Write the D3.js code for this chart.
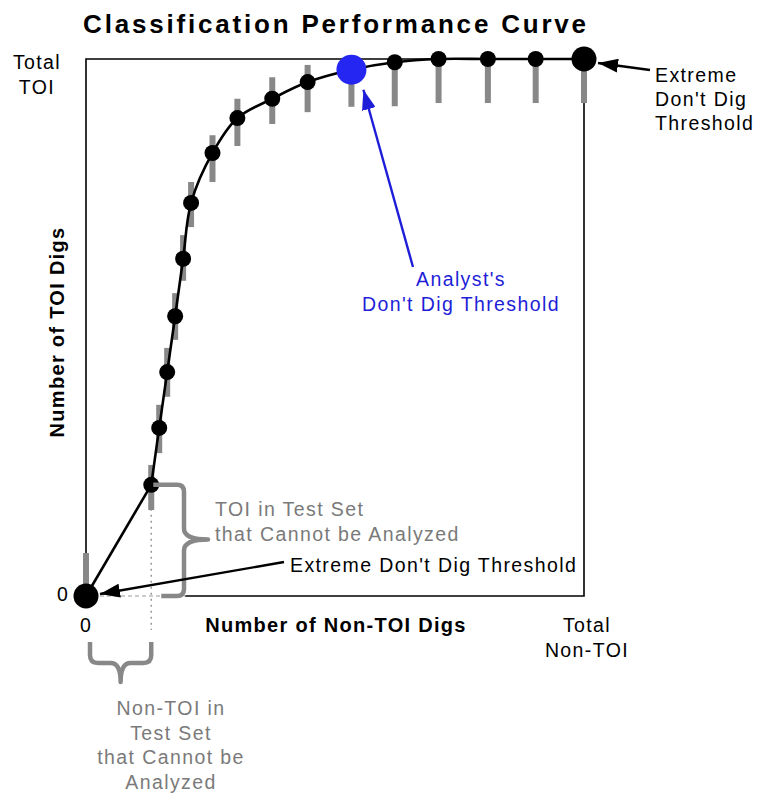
<!DOCTYPE html>
<html>
<head>
<meta charset="utf-8">
<script src="https://cdn.jsdelivr.net/npm/d3@7/dist/d3.min.js"></script>
<style>
  html, body { margin: 0; padding: 0; background: #fff; }
  svg { display: block; }
  text { font-family: "Liberation Sans", Arial, Helvetica, sans-serif; }
</style>
</head>
<body>
<svg id="chart" width="758" height="794"></svg>
<script>
// ---------------- data ----------------
const nonToiDigs = [0, 13.1, 14.7, 16.3, 17.9, 19.5, 21.1, 25.4, 30.4, 37.4, 44.5, 53.3, 62.0, 70.8, 80.7, 90.3, 100];
const toiDigs    = [0, 20.7, 31.3, 41.7, 52.1, 62.8, 73.2, 82.5, 89.0, 92.6, 95.7, 98.0, 99.4, 100, 100, 100, 100];
const rangeLow   = [0, 16.0, 26.6, 37.1, 47.7, 58.7, 68.7, 77.1, 83.8, 87.9, 90.1, 91.1, 91.2, 91.8, 91.8, 91.8, 91.8];
const rangeHigh  = [8.0, 24.4, 35.6, 46.2, 56.4, 67.2, 77.1, 85.8, 92.6, 96.6, 98.9, 99.1, 99.3, 100, 100, 100, 100];
const pointRole  = ["extreme", "", "", "", "", "", "", "", "", "", "", "analyst", "", "", "", "", "extreme"];
const xTickValues = [0, 100];
const xTickLabels = [["0"], ["Total", "Non-TOI"]];
const yTickValues = [0, 100];
const yTickLabels = [["0"], ["Total", "TOI"]];
const unanalyzedNonToi = 13.1;  // non-TOI that cannot be analyzed
const unanalyzedToi = 20.7;     // TOI that cannot be analyzed

const titleText = "Classification Performance Curve";
const xAxisTitle = "Number of Non-TOI Digs";
const yAxisTitle = "Number of TOI Digs";

// ---------------- layout ----------------
(function () {
const svg = d3.select("#chart");
const pLeft = 86, pRight = 584, pTop = 59, pBottom = 596;
const x = d3.scaleLinear().domain([0, 100]).range([pLeft, pRight]);
const y = d3.scaleLinear().domain([0, 100]).range([pBottom, pTop]);

const GRAY = "#888888";
const GRAYTXT = "#7a7a7a";
const BLUE = "#2626f2";
const BLUETXT = "#1e1ed8";
const FS = 19.5, LS = 1.4;

const defs = svg.append("defs");
function marker(id, color) {
  defs.append("marker").attr("id", id)
    .attr("viewBox", "0 0 20 14").attr("refX", 20).attr("refY", 7)
    .attr("markerWidth", 20).attr("markerHeight", 14)
    .attr("markerUnits", "userSpaceOnUse").attr("orient", "auto")
    .append("path").attr("d", "M0,0 L20,7 L0,14 Z").attr("fill", color);
}
marker("arrowBlack", "#000");
marker("arrowBlue", BLUETXT);

// title
svg.append("text").attr("x", 336).attr("y", 33).attr("text-anchor", "middle")
  .attr("font-size", 26).attr("font-weight", "bold").attr("letter-spacing", 2.8)
  .text(titleText);

// frame
const xEdge = x(unanalyzedNonToi) + 34;
svg.append("path")
  .attr("d", `M${xEdge},${pBottom} H${pRight} V${pTop} H${pLeft} V${pBottom}`)
  .attr("fill", "none").attr("stroke", "#000").attr("stroke-width", 1.6);
// dashed bottom segment near origin
svg.append("line").attr("x1", pLeft).attr("x2", xEdge).attr("y1", pBottom).attr("y2", pBottom)
  .attr("stroke", "#9a9a9a").attr("stroke-width", 1.2).attr("stroke-dasharray", "4,3");

// dotted guide for non-TOI that cannot be analyzed
svg.append("line")
  .attr("x1", x(unanalyzedNonToi)).attr("x2", x(unanalyzedNonToi))
  .attr("y1", y(unanalyzedToi)).attr("y2", pBottom + 34)
  .attr("stroke", "#9a9a9a").attr("stroke-width", 1.5).attr("stroke-dasharray", "2,4");

// gray range bars
svg.append("g").selectAll("rect").data(nonToiDigs).join("rect")
  .attr("x", (d) => x(d) - 3)
  .attr("width", 6)
  .attr("y", (d, i) => y(rangeHigh[i]))
  .attr("height", (d, i) => y(rangeLow[i]) - y(rangeHigh[i]))
  .attr("fill", GRAY);

// curve: straight from origin to first analyzable point, then smooth
const pts = nonToiDigs.map((d, i) => [d, toiDigs[i]]);
svg.append("path")
  .attr("d", d3.line().x(d => x(d[0])).y(d => y(d[1]))(pts.slice(0, 2)))
  .attr("fill", "none").attr("stroke", "#000").attr("stroke-width", 2.6);
svg.append("path")
  .attr("d", d3.line().curve(d3.curveCatmullRom.alpha(0.5)).x(d => x(d[0])).y(d => y(d[1]))(pts.slice(1)))
  .attr("fill", "none").attr("stroke", "#000").attr("stroke-width", 2.6);

// points
svg.append("g").selectAll("circle").data(pts).join("circle")
  .attr("cx", d => x(d[0])).attr("cy", d => y(d[1]))
  .attr("r", (d, i) => pointRole[i] === "analyst" ? 15 : pointRole[i] === "extreme" ? 12.5 : 8)
  .attr("fill", (d, i) => pointRole[i] === "analyst" ? BLUE : "#000");

// text helper
function multiText(xp, yp, lines, anchor, opts = {}) {
  const t = svg.append("text").attr("x", xp).attr("y", yp).attr("text-anchor", anchor)
    .attr("font-size", opts.fs || FS).attr("letter-spacing", opts.ls != null ? opts.ls : LS)
    .attr("fill", opts.color || "#000");
  if (opts.bold) t.attr("font-weight", "bold");
  lines.forEach((ln, i) => {
    t.append("tspan").attr("x", xp).attr("dy", i === 0 ? 0 : (opts.lh || 25)).text(ln);
  });
  return t;
}
// x ticks
multiText(x(xTickValues[0]), 632, xTickLabels[0], "middle");
multiText(x(xTickValues[1]) + 3, 632, xTickLabels[1], "middle");
// y ticks
multiText(63, y(yTickValues[0]) + 5, yTickLabels[0], "middle");
multiText(37, y(yTickValues[1]) + 10, yTickLabels[1], "middle");

// axis titles
svg.append("text").attr("x", 336).attr("y", 632).attr("text-anchor", "middle")
  .attr("font-size", 20).attr("font-weight", "bold").attr("letter-spacing", 1.3)
  .text(xAxisTitle);
svg.append("text").attr("transform", "translate(64,332) rotate(-90)").attr("text-anchor", "middle")
  .attr("font-size", 20).attr("font-weight", "bold").attr("letter-spacing", 1.3)
  .text(yAxisTitle);

// brace: TOI that cannot be analyzed
const bx = 184, bTop = y(unanalyzedToi), bBot = pBottom, bMid = (bTop + bBot) / 2;
svg.append("path")
  .attr("d", `M${x(unanalyzedNonToi) + 2},${bTop} H${bx - 7} Q${bx},${bTop} ${bx},${bTop + 7} V${bMid - 12} Q${bx},${bMid - 1} ${bx + 24},${bMid - 1} Q${bx},${bMid - 1} ${bx},${bMid + 10} V${bBot - 7} Q${bx},${bBot} ${bx - 7},${bBot} H${x(unanalyzedNonToi) + 10}`)
  .attr("fill", "none").attr("stroke", GRAY).attr("stroke-width", 4.5).attr("stroke-linejoin", "round");
multiText(215, 516, ["TOI in Test Set", "that Cannot be Analyzed"], "start", { color: GRAYTXT });

// brace: Non-TOI that cannot be analyzed
const by0 = 642, by1 = 663, bl = x(0) + 4, br = x(unanalyzedNonToi), bc = (bl + br) / 2;
svg.append("path")
  .attr("d", `M${bl},${by0} V${by1 - 8} Q${bl},${by1} ${bl + 8},${by1} H${bc - 10} Q${bc},${by1} ${bc},${by1 + 19} Q${bc},${by1} ${bc + 10},${by1} H${br - 8} Q${br},${by1} ${br},${by1 - 8} V${by0}`)
  .attr("fill", "none").attr("stroke", GRAY).attr("stroke-width", 4.5).attr("stroke-linejoin", "round");
multiText(171, 715, ["Non-TOI in", "Test Set", "that Cannot be", "Analyzed"], "middle", { color: GRAYTXT, lh: 24.5 });

// annotation: extreme threshold at origin
svg.append("line").attr("x1", 284).attr("y1", 562).attr("x2", x(0) + 14).attr("y2", y(0) - 2)
  .attr("stroke", "#000").attr("stroke-width", 2.4).attr("marker-end", "url(#arrowBlack)");
multiText(290, 572, ["Extreme Don't Dig Threshold"], "start");

// annotation: extreme threshold at top right
svg.append("line").attr("x1", 650).attr("y1", 70).attr("x2", x(100) + 14).attr("y2", y(100) + 4)
  .attr("stroke", "#000").attr("stroke-width", 2.4).attr("marker-end", "url(#arrowBlack)");
multiText(655, 82, ["Extreme", "Don't Dig", "Threshold"], "start", { lh: 24 });

// annotation: analyst's threshold
const ai = pointRole.indexOf("analyst");
svg.append("line").attr("x1", 413).attr("y1", 267).attr("x2", x(nonToiDigs[ai]) + 12).attr("y2", y(toiDigs[ai]) + 20)
  .attr("stroke", BLUETXT).attr("stroke-width", 2.4).attr("marker-end", "url(#arrowBlue)");
multiText(461, 286, ["Analyst's", "Don't Dig Threshold"], "middle", { color: BLUETXT, lh: 25 });
})();
</script>
</body>
</html>
